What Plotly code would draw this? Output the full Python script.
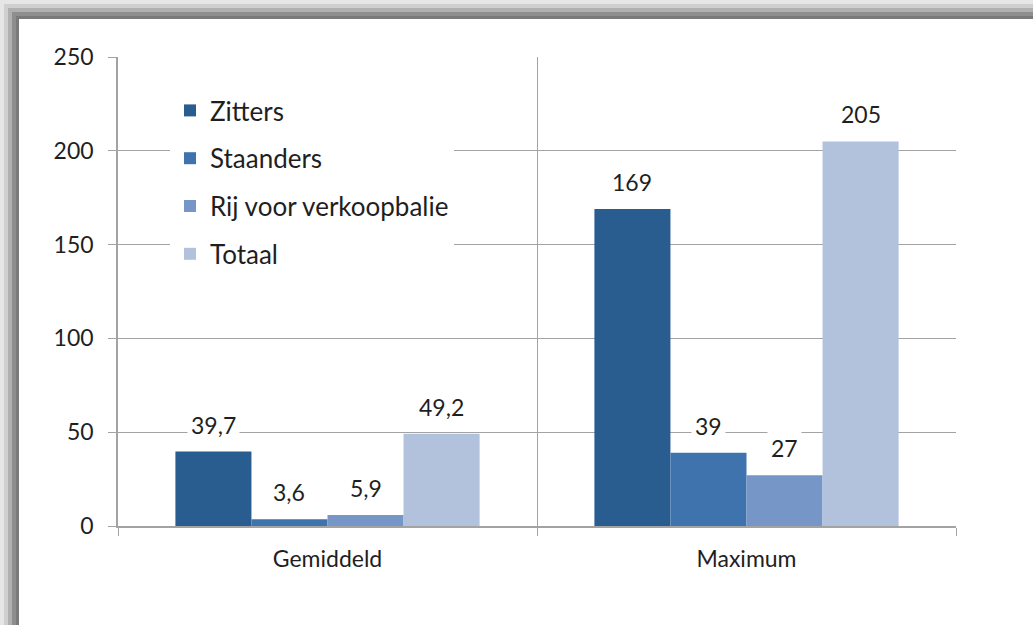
import plotly.graph_objects as go

categories = ["Gemiddeld", "Maximum"]
series_names = ["Zitters", "Staanders", "Rij voor verkoopbalie", "Totaal"]
zitters = [39.7, 169]
staanders = [3.6, 39]
rij = [5.9, 27]
totaal = [49.2, 205]
y_ticks = [0, 50, 100, 150, 200, 250]
colors = ["#2A5D8F", "#3E73AE", "#7596C6", "#B2C2DD"]

W, H = 1033, 625
L, R, T, B = 118, 956, 57, 526
FONT = "Lato"
TXT = "#1F1F1F"
GRID = "#A3A3A3"

def fmt(v):
    s = ("%g" % v)
    return s.replace(".", ",")

all_series = [zitters, staanders, rij, totaal]

fig = go.Figure()
for name, vals, col in zip(series_names, all_series, colors):
    fig.add_trace(go.Bar(
        x=categories, y=vals, name=name, marker=dict(color=col, line=dict(width=0)),
        legendgroup=name,
    ))

# data labels as annotations with white background
bargap = 0.274
nser = len(all_series)
bw = (1 - bargap) / nser
annotations = []
for si, vals in enumerate(all_series):
    off = (si - (nser - 1) / 2) * bw
    for ci, v in enumerate(vals):
        annotations.append(dict(
            x=ci + off, y=v, xref="x", yref="y", text=fmt(v), showarrow=False,
            yshift=27, yanchor="middle", bgcolor="white", borderpad=3,
            font=dict(family=FONT, size=23, color=TXT),
        ))

def px_x(p):
    return (p - L) / (R - L)

def px_y(p):
    return (B - p) / (B - T)

shapes = []
# shadow frame: gradient bands on left and top
band = [(0, 4, "#E6E6E6"), (4, 8, "#CFCFCF"), (8, 12, "#B0B0B0"), (12, 16, "#8E8E8E"), (16, 19, "#7A7A7A")]
for a, b, c in band:
    shapes.append(dict(type="rect", xref="paper", yref="paper", x0=px_x(a), x1=px_x(b),
                       y0=px_y(W), y1=px_y(a), fillcolor=c, line=dict(width=0), layer="below"))
    shapes.append(dict(type="rect", xref="paper", yref="paper", x0=px_x(a), x1=px_x(W + 10),
                       y0=px_y(b), y1=px_y(a), fillcolor=c, line=dict(width=0), layer="below"))

fig.update_layout(
    width=W, height=H,
    margin=dict(l=L, r=W - R, t=T, b=H - B, pad=0),
    paper_bgcolor="white", plot_bgcolor="white",
    barmode="group", bargap=bargap, bargroupgap=0,
    font=dict(family=FONT, size=23, color=TXT),
    showlegend=True,
    legend=dict(
        x=px_x(170), y=px_y(87), xanchor="left", yanchor="top",
        bgcolor="white", borderwidth=0, tracegroupgap=11,
        font=dict(family=FONT, size=26, color=TXT),
        itemwidth=30,
    ),
    xaxis=dict(
        type="category", tickson="boundaries", showgrid=True, gridcolor=GRID, gridwidth=1,
        ticks="outside", ticklen=8, tickcolor=GRID, showline=True, linecolor=GRID, linewidth=1.5,
        tickfont=dict(family=FONT, size=23, color=TXT), fixedrange=True,
        ticklabelstandoff=12,
    ),
    yaxis=dict(
        range=[0, 250], tickvals=y_ticks, showgrid=True, gridcolor=GRID, gridwidth=1,
        ticks="outside", ticklen=8, tickcolor=GRID, showline=True, linecolor=GRID, linewidth=1.5,
        tickfont=dict(family=FONT, size=23, color=TXT), zeroline=False, fixedrange=True,
        ticklabelstandoff=10,
    ),
    annotations=annotations,
    shapes=shapes,
)

fig.write_html("out.html", config={"displayModeBar": False},
               post_script="document.body.style.margin='0';document.body.style.padding='0';")
